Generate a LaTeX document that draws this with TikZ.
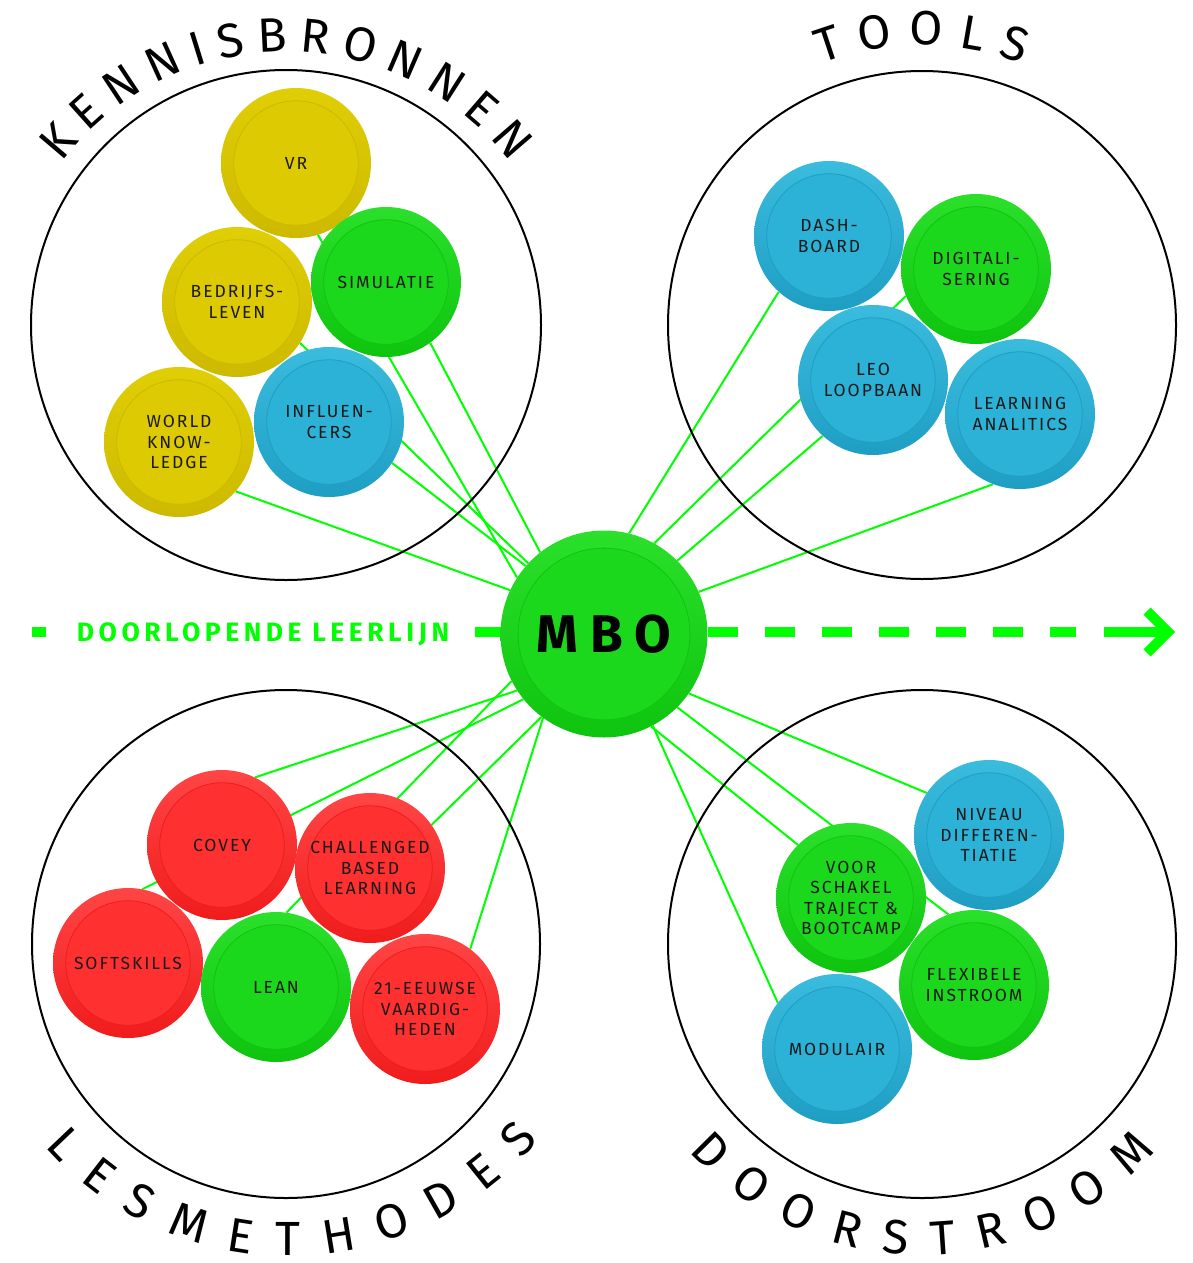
\documentclass[tikz,border=0pt]{standalone}
\usepackage{fontspec}
\setmainfont{Fira Sans}
\newfontfamily\lblfamily{Fira Sans}[LetterSpace=11]
\newfontfamily\leadfamily{Fira Sans}[LetterSpace=17]
\newfontfamily\mbofamily{Fira Sans}[LetterSpace=22]
\newfontfamily\titlefamily{Fira Sans}
\usetikzlibrary{decorations.text,backgrounds}
\definecolor{neon}{HTML}{00FF00}
\definecolor{ytop}{HTML}{E0CE05}\definecolor{ybot}{HTML}{CDB900}\definecolor{yin}{HTML}{DDCA02}
\definecolor{gtop}{HTML}{2AE02A}\definecolor{gbot}{HTML}{0FC40F}\definecolor{gin}{HTML}{1CD81C}
\definecolor{btop}{HTML}{3ABCDE}\definecolor{bbot}{HTML}{1F9EC4}\definecolor{bin}{HTML}{2CB1D7}
\definecolor{rtop}{HTML}{FF4545}\definecolor{rbot}{HTML}{F01C1C}\definecolor{rin}{HTML}{FF3030}
\definecolor{labelc}{HTML}{1A1A1A}
\tikzset{
  ball/.style 2 args={circle, inner sep=0pt, minimum size=#2, top color=#1top, bottom color=#1bot,
    text=labelc, align=center, font=\lblfamily\fontsize{17.5}{20.5}\selectfont,
    path picture={\fill[#1in] (path picture bounding box.center) circle[radius=0.415*#2];
      \draw[#1bot, line width=0.8pt] (path picture bounding box.center) circle[radius=0.415*#2];}},
  group/.style={draw=black, line width=2pt},
  link/.style={draw=neon, line width=2pt},
  lead/.style={draw=neon, line width=10pt, line cap=butt},
  titletext/.style={decorate, decoration={text along path, text align=fit to path, text={|\titlefamily\fontsize{48}{54}\selectfont|#1}}}
}
\begin{document}
\begin{tikzpicture}[x=1pt,y=1pt]
\useasboundingbox (0,0) rectangle (1192,-1263);
% group circles
\draw[group] (286,-325) circle[radius=255];
\draw[group] (922,-325) circle[radius=254];
\draw[group] (286,-944) circle[radius=254];
\draw[group] (922,-944) circle[radius=254];
% centre
\node[ball={g}{207pt}, font=\mbofamily\bfseries\fontsize{53}{60}\selectfont, text=black] (mbo) at (604,-634) {MBO};
% kennisbronnen
\node[ball={y}{150pt}] (vr) at (296,-163) {VR};
\node[ball={g}{150pt}] (sim) at (386,-282) {SIMULATIE};
\node[ball={y}{150pt}] (bed) at (237,-302) {BEDRIJFS-\\LEVEN};
\node[ball={y}{150pt}] (world) at (179,-442) {WORLD\\KNOW-\\LEDGE};
\node[ball={b}{150pt}] (infl) at (329,-422) {INFLUEN-\\CERS};
% tools
\node[ball={b}{150pt}] (dash) at (829,-236) {DASH-\\BOARD};
\node[ball={g}{150pt}] (digi) at (976,-269) {DIGITALI-\\SERING};
\node[ball={b}{150pt}] (leo) at (873,-380) {LEO\\LOOPBAAN};
\node[ball={b}{150pt}] (learn) at (1020,-414) {LEARNING\\ANALITICS};
% lesmethodes
\node[ball={r}{150pt}] (covey) at (222,-845) {COVEY};
\node[ball={r}{150pt}] (chal) at (370,-868) {CHALLENGED\\BASED\\LEARNING};
\node[ball={r}{150pt}] (soft) at (128,-963) {SOFTSKILLS};
\node[ball={g}{150pt}] (lean) at (276,-987) {LEAN};
\node[ball={r}{150pt}] (eeuw) at (425,-1009) {21-EEUWSE\\VAARDIG-\\HEDEN};
% doorstroom
\node[ball={b}{150pt}] (niv) at (989,-835) {NIVEAU\\DIFFEREN-\\TIATIE};
\node[ball={g}{150pt}] (voor) at (851,-898) {VOOR\\SCHAKEL\\TRAJECT \&\\BOOTCAMP};
\node[ball={g}{150pt}] (flex) at (974,-985) {FLEXIBELE\\INSTROOM};
\node[ball={b}{150pt}] (mod) at (837,-1049) {MODULAIR};
% leerlijn label
\node[font=\leadfamily\bfseries\fontsize{26.5}{30}\selectfont, text=neon, anchor=base, inner sep=0pt] (leerlijn) at (263,-641.5) {DOORLOPENDE LEERLIJN};
\coordinate (ldA) at (32,-632);
\coordinate (ldB) at (46,-632);
\coordinate (ldC) at (475,-632);
\coordinate (rdEnd) at (1076,-632);
\coordinate (arrS) at (1104,-632);
\coordinate (arrT) at (1168,-632);
\begin{scope}[on background layer]
\fill[white] (0,0) rectangle (1192,-1263);
\draw[link] (vr.-73) -- (mbo.147);
\draw[link] (sim.-54) -- (mbo.128);
\draw[link] (bed.-33.5) -- (mbo.137);
\draw[link] (infl.-33) -- (mbo.139);
\draw[link] (world.-41) -- (mbo.155);
\draw[link] (dash.-132) -- (mbo.76);
\draw[link] (digi.-159) -- (mbo.61);
\draw[link] (leo.-132) -- (mbo.45);
\draw[link] (learn.-111.5) -- (mbo.24.6);
\draw[link] (covey.64) -- (mbo.-147);
\draw[link] (soft.79) -- (mbo.-141.5);
\draw[link] (lean.82) -- (mbo.-153.5);
\draw[link] (chal.35.5) -- (mbo.-127.5);
\draw[link] (eeuw.53) -- (mbo.-126);
\draw[link] (niv.146.7) -- (mbo.-35.7);
\draw[link] (flex.110.6) -- (mbo.-45.6);
\draw[link] (voor.135) -- (mbo.-63.4);
\draw[link] (mod.142) -- (mbo.-62.3);
\draw[lead] (ldA) -- (ldB);
\draw[lead] (ldC) -- (ldC -| mbo.center);
\draw[lead, dash pattern=on 30pt off 27pt] (rdEnd -| mbo.east) -- (rdEnd);
\end{scope}
\draw[lead] (arrS) -- (arrT);
\draw[lead, line join=miter] ([shift={(-21,21)}]arrT) -- (arrT) -- ([shift={(-21,-21)}]arrT);
% titles
\path[titletext=KENNISBRONNEN] (286,-335) ++(142.5:283) arc[start angle=142.5, end angle=37.5, radius=283];
\path[titletext=TOOLS] (922,-325) ++(111:280) arc[start angle=111, end angle=69, radius=280];
\path[titletext=LESMETHODES] (289,-930) ++(221.5:326) arc[start angle=221.5, end angle=320, radius=326];
\path[titletext=DOORSTROOM] (922,-941) ++(222:314) arc[start angle=222, end angle=318, radius=314];
\end{tikzpicture}
\end{document}
